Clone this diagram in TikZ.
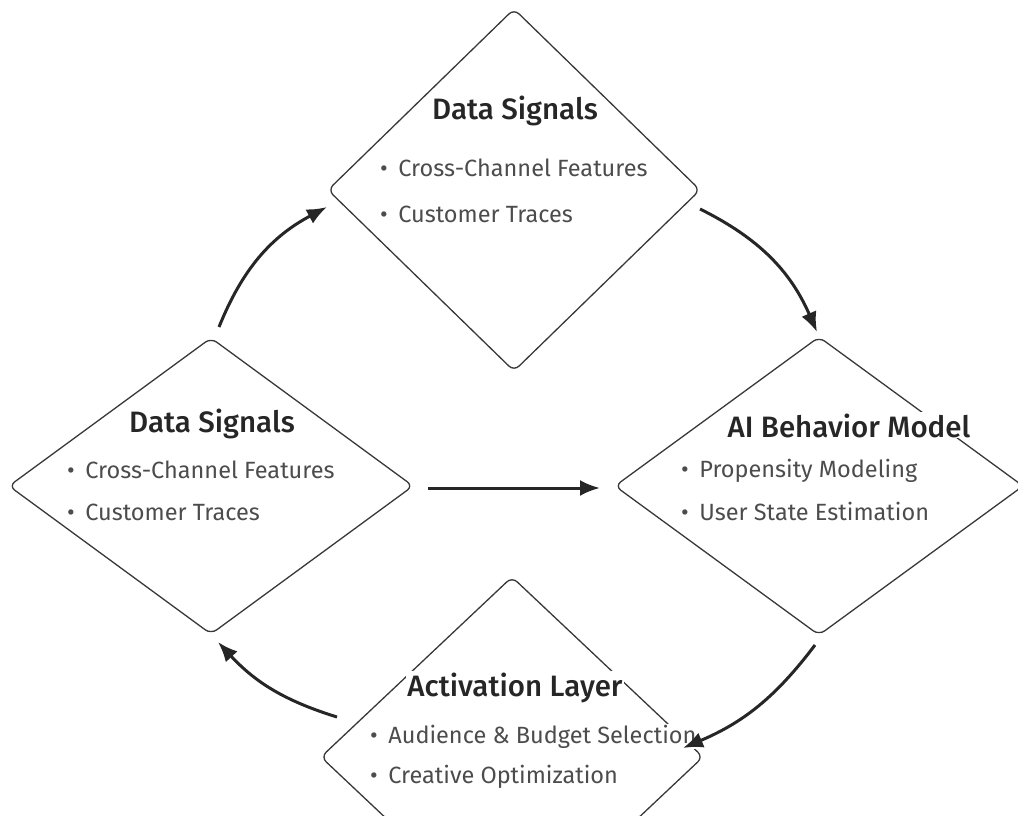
\documentclass[tikz,border=0pt]{standalone}
\usepackage{fontspec}
\setmainfont{Fira Sans}
\newfontfamily\headfont{Fira Sans Medium}
\usetikzlibrary{shapes.geometric,arrows.meta}
\newcommand{\bul}{\textbullet\hspace{0.45em}}
\begin{document}
\begin{tikzpicture}[x=1pt,y=-1pt,
  stage/.style={diamond, draw=black!78, line width=1.3pt, rounded corners=7pt,
                inner sep=0pt, outer sep=0pt},
  title/.style={anchor=base, fill=white, inner sep=1pt, text=black!85,
                font=\headfont\fontsize{29.5}{34}\selectfont},
  item/.style={anchor=base west, fill=white, inner sep=1pt, text=black!70,
               font=\fontsize{23.5}{28}\selectfont},
  flow/.style={-{Latex[length=20pt,width=16pt]}, line width=3pt, draw=black!85},
]
\useasboundingbox (0,0) rectangle (1018,816);
\clip (0,0) rectangle (1018,816);

% stages of the loop
\node[stage, minimum width=372pt, minimum height=362pt] (T) at (514,190) {};
\node[stage, minimum width=404pt, minimum height=296pt] (L) at (211,486) {};
\node[stage, minimum width=408pt, minimum height=298pt] (R) at (819,486) {};
\node[stage, minimum width=382pt, minimum height=360pt] (B) at (512,757) {};

% top stage text
\node[title] (Tt) at (515,120) {Data Signals};
\node[item] (Ta) at (379,176) {\bul Cross-Channel Features};
\node[item] (Tb) at (379,222) {\bul Customer Traces};

% left stage text
\node[title] (Lt) at (212,432) {Data Signals};
\node[item] (La) at (66,478) {\bul Cross-Channel Features};
\node[item] (Lb) at (66,520) {\bul Customer Traces};

% right stage text
\node[title] (Rt) at (849,437) {AI Behavior Model};
\node[item] (Ra) at (680,477) {\bul Propensity Modeling};
\node[item] (Rb) at (680,520) {\bul User State Estimation};

% bottom stage text
\node[title] (Bt) at (515,696) {Activation Layer};
\node[item] (Ba) at (369,743) {\bul Audience \& Budget Selection};
\node[item] (Bb) at (369,783) {\bul Creative Optimization};

% connectors
\draw[flow] ([shift={(8,-11)}]L.north) to[bend left=20] ([shift={(-1,17)}]T.west);
\draw[flow] ([shift={(0,19)}]T.east) to[bend left=20] ([shift={(-2,-5)}]R.north);
\draw[flow] ([shift={(-4,10)}]R.south) to[bend left=15] ([shift={(-20,-9)}]B.east);
\draw[flow] ([shift={(16,-40)}]B.west) to[bend left=15] ([shift={(7,8)}]L.south);
\draw[flow] ([shift={(15,2)}]L.east) -- ([shift={(-15,2)}]R.west);
\end{tikzpicture}
\end{document}
